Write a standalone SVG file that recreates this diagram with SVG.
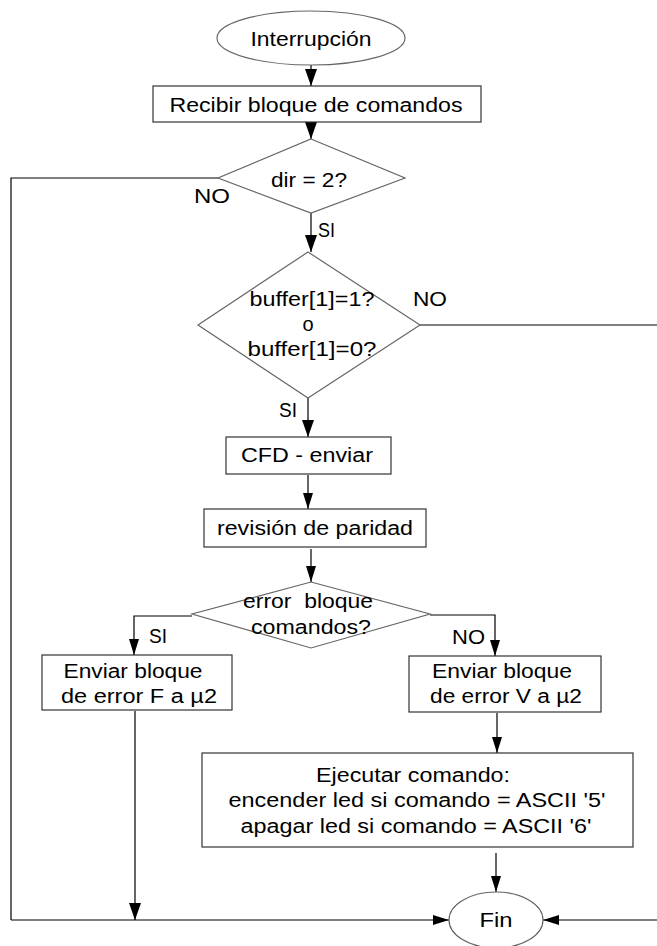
<svg xmlns="http://www.w3.org/2000/svg" width="657" height="946" viewBox="0 0 657 946">
  <style>
    text { font-family: "Liberation Sans", Arial, sans-serif; font-size: 20px; fill: #000; white-space: pre; }
    .c { text-anchor: middle; }
    .box { fill: #fff; stroke: #333; stroke-width: 1.2; }
    .dec { fill: #fff; stroke: #666; stroke-width: 1.2; }
    .term { fill: #fff; stroke: #666; stroke-width: 1.2; }
    .wire { fill: none; stroke: #000; stroke-width: 1.2; }
    .big { marker-end: url(#arrowBig); }
    .small { marker-end: url(#arrowSmall); }
  </style>
  <defs>
    <marker id="arrowBig" markerUnits="userSpaceOnUse" markerWidth="17" markerHeight="12" viewBox="0 0 17 12" refX="17" refY="6" orient="auto">
      <path d="M0,0 L17,6 L0,12 z" fill="#000"/>
    </marker>
    <marker id="arrowSmall" markerUnits="userSpaceOnUse" markerWidth="16" markerHeight="10" viewBox="0 0 16 10" refX="16" refY="5" orient="auto">
      <path d="M0,0 L16,5 L0,10 z" fill="#000"/>
    </marker>
  </defs>
  <rect width="657" height="946" fill="#fff"/>

  <!-- connectors and branch labels -->
  <g id="connectors">
    <line class="wire big" x1="311" y1="65" x2="311" y2="86"/>
    <line class="wire big" x1="311" y1="122" x2="311" y2="139"/>
    <!-- dir = 2? : NO goes down the left margin to Fin -->
    <polyline class="wire" points="218,178 11,178 11,920"/>
    <line class="wire small" x1="11" y1="920" x2="449" y2="920"/>
    <text x="194" y="203" textLength="36" lengthAdjust="spacingAndGlyphs">NO</text>
    <!-- dir = 2? : SI -->
    <line class="wire big" x1="311" y1="213" x2="311" y2="252"/>
    <text x="318" y="237" textLength="17" lengthAdjust="spacingAndGlyphs">SI</text>
    <!-- buffer test : NO leaves to the right -->
    <line class="wire" x1="420" y1="325" x2="657" y2="325"/>
    <text x="413" y="306" textLength="34" lengthAdjust="spacingAndGlyphs">NO</text>
    <!-- buffer test : SI -->
    <line class="wire big" x1="308" y1="398" x2="308" y2="437"/>
    <text x="279" y="417" textLength="18" lengthAdjust="spacingAndGlyphs">SI</text>
    <line class="wire small" x1="308" y1="475" x2="308" y2="509"/>
    <line class="wire small" x1="311" y1="549" x2="311" y2="582"/>
    <!-- parity error : SI -->
    <polyline class="wire small" points="192,616 134,616 134,655"/>
    <text x="149" y="643" textLength="18" lengthAdjust="spacingAndGlyphs">SI</text>
    <!-- parity error : NO -->
    <polyline class="wire small" points="430,615 495,615 495,656"/>
    <text x="452" y="644" textLength="33" lengthAdjust="spacingAndGlyphs">NO</text>
    <line class="wire big" x1="135" y1="711" x2="135" y2="920"/>
    <line class="wire small" x1="497" y1="713" x2="497" y2="753"/>
    <line class="wire small" x1="496" y1="853" x2="496" y2="892"/>
    <line class="wire small" x1="657" y1="920" x2="543" y2="920"/>
  </g>

  <g id="inicio">
    <ellipse class="term" cx="311" cy="38" rx="94" ry="27"/>
    <text class="c" x="311" y="46" textLength="121" lengthAdjust="spacingAndGlyphs">Interrupción</text>
  </g>

  <g id="recibir">
    <rect class="box" x="153" y="86" width="328" height="36"/>
    <text class="c" x="316" y="112" textLength="293" lengthAdjust="spacingAndGlyphs">Recibir bloque de comandos</text>
  </g>

  <g id="dir">
    <polygon class="dec" points="311,139 405,178 311,213 218,178"/>
    <text class="c" x="309" y="187" textLength="76" lengthAdjust="spacingAndGlyphs">dir = 2?</text>
  </g>

  <g id="buffer">
    <polygon class="dec" points="308,252 420,325 308,398 198,325"/>
    <text class="c" x="312" y="306" textLength="125" lengthAdjust="spacingAndGlyphs">buffer[1]=1?</text>
    <text class="c" x="308" y="331">o</text>
    <text class="c" x="312" y="356" textLength="129" lengthAdjust="spacingAndGlyphs">buffer[1]=0?</text>
  </g>

  <g id="cfd">
    <rect class="box" x="226" y="437" width="165" height="37"/>
    <text class="c" x="307" y="462" textLength="132" lengthAdjust="spacingAndGlyphs">CFD - enviar</text>
  </g>

  <g id="paridad">
    <rect class="box" x="204" y="509" width="222" height="38"/>
    <text class="c" x="315" y="535" textLength="196" lengthAdjust="spacingAndGlyphs">revisión de paridad</text>
  </g>

  <g id="error">
    <polygon class="dec" points="311,582 430,614 311,648 192,614"/>
    <text class="c" x="308" y="608" textLength="130" lengthAdjust="spacingAndGlyphs">error  bloque</text>
    <text class="c" x="311" y="634" textLength="120" lengthAdjust="spacingAndGlyphs">comandos?</text>
  </g>

  <g id="errorF">
    <rect class="box" x="42" y="655" width="190" height="55"/>
    <text class="c" x="133" y="678" textLength="139" lengthAdjust="spacingAndGlyphs">Enviar bloque</text>
    <text class="c" x="139" y="703" textLength="156" lengthAdjust="spacingAndGlyphs">de error F a µ2</text>
  </g>

  <g id="errorV">
    <rect class="box" x="409" y="656" width="192" height="56"/>
    <text class="c" x="502" y="678" textLength="140" lengthAdjust="spacingAndGlyphs">Enviar bloque</text>
    <text class="c" x="506" y="703" textLength="152" lengthAdjust="spacingAndGlyphs">de error V a µ2</text>
  </g>

  <g id="ejecutar">
    <rect class="box" x="202" y="753" width="431" height="94"/>
    <text class="c" x="413" y="782" textLength="194" lengthAdjust="spacingAndGlyphs">Ejecutar comando:</text>
    <text class="c" x="417" y="807" textLength="377" lengthAdjust="spacingAndGlyphs">encender led si comando = ASCII '5'</text>
    <text class="c" x="416" y="833" textLength="351" lengthAdjust="spacingAndGlyphs">apagar led si comando = ASCII '6'</text>
  </g>

  <g id="fin">
    <ellipse class="term" cx="496" cy="920" rx="47" ry="28"/>
    <text class="c" x="496" y="927" textLength="33" lengthAdjust="spacingAndGlyphs">Fin</text>
  </g>
</svg>
